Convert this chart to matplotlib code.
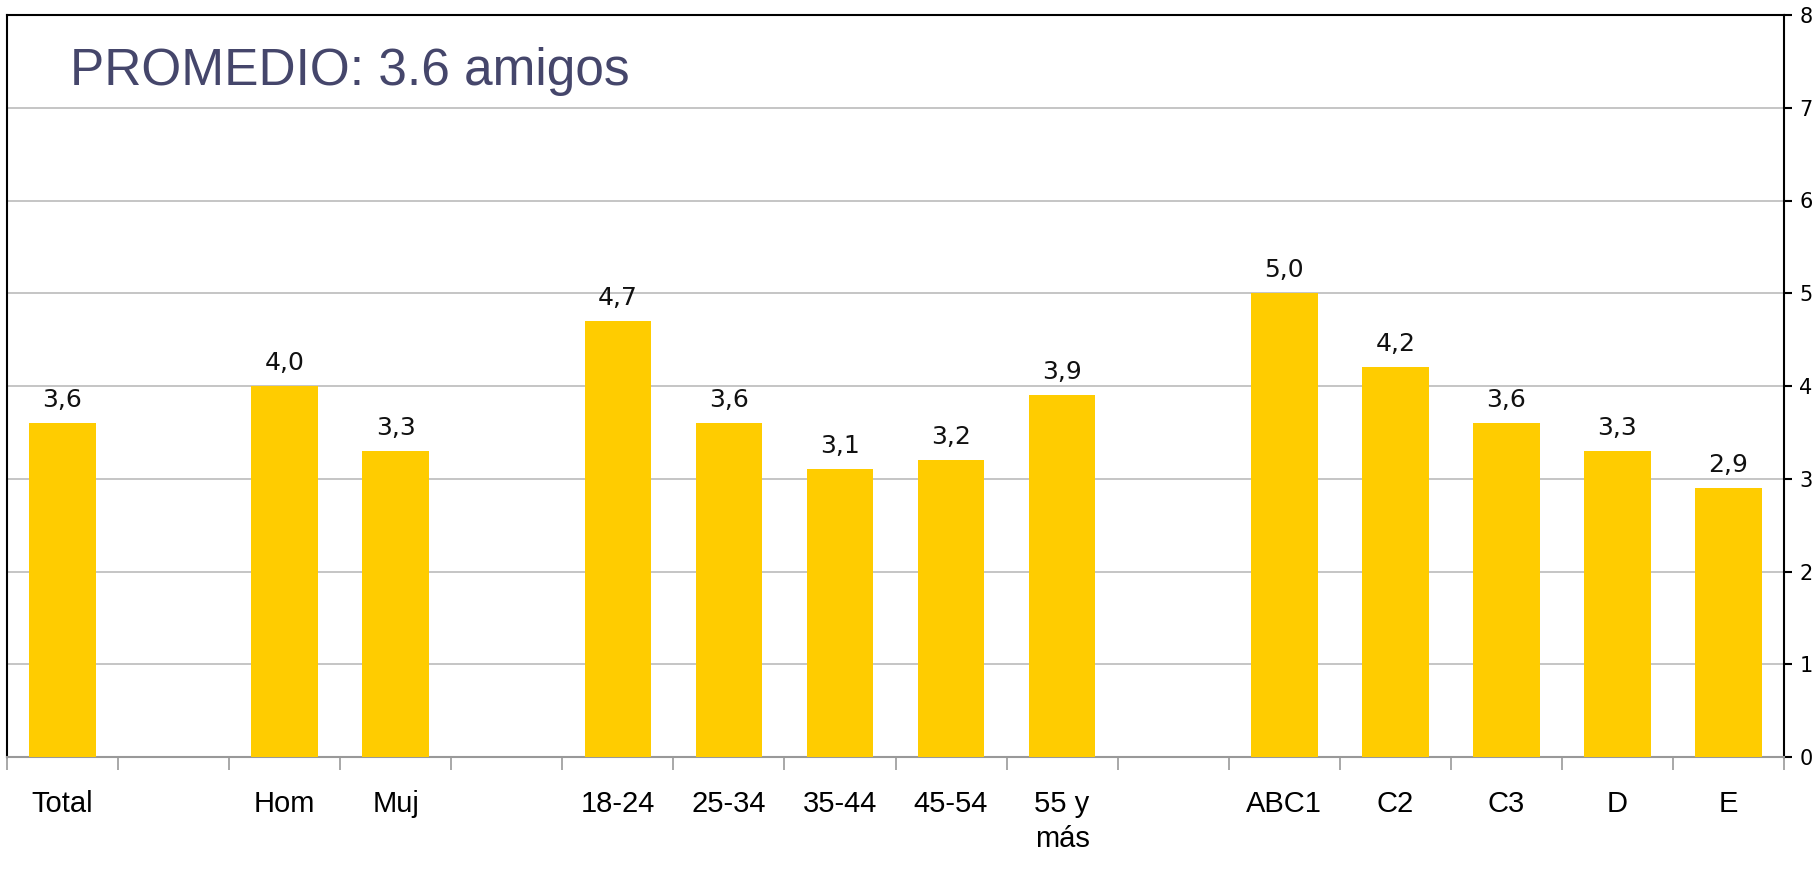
import matplotlib.pyplot as plt
import numpy as np

categories = ['Total', '', 'Hom', 'Muj', '', '18-24', '25-34', '35-44', '45-54',
              '55 y\nmás', '', 'ABC1', 'C2', 'C3', 'D', 'E']
values = [3.6, None, 4.0, 3.3, None, 4.7, 3.6, 3.1, 3.2, 3.9, None, 5.0, 4.2, 3.6, 3.3, 2.9]
y_ticks = [0, 1, 2, 3, 4, 5, 6, 7, 8]
title = 'PROMEDIO: 3.6 amigos'

W, H = 1816, 881
fig = plt.figure(figsize=(W / 100, H / 100), dpi=100)
ax = fig.add_axes([7 / W, 1 - 757 / H, (1784 - 7) / W, (757 - 15) / H])

x = np.arange(len(categories))
for xi, v in zip(x, values):
    if v is None:
        continue
    ax.bar(xi, v, width=0.6, color='#FFCC00', zorder=3)
    ax.text(xi, v + 0.12, f'{v:.1f}'.replace('.', ','), ha='center', va='bottom',
            fontsize=18, family='DejaVu Sans', color='#111111')

ax.set_xlim(-0.5, len(categories) - 0.5)
ax.set_ylim(0, 8)

# category labels centred, boundary ticks as minor ticks
ax.set_xticks(x)
ax.set_xticklabels(categories, family=['Liberation Sans', 'DejaVu Sans'],
                   fontsize=21, linespacing=1.3, va='top')
ax.tick_params(axis='x', which='major', length=0, pad=24)
ax.set_xticks(np.arange(-0.5, len(categories), 1), minor=True)
ax.tick_params(axis='x', which='minor', length=9, width=1.2, color='#999999', direction='out')

ax.yaxis.tick_right()
ax.set_yticks(y_ticks)
ax.tick_params(axis='y', length=6, width=1.5, color='black', pad=5, labelsize=15)
for lab in ax.get_yticklabels():
    lab.set_family('DejaVu Sans')

ax.grid(axis='y', color='#c0c0c0', linewidth=1.3, zorder=0)

for side in ['left', 'top', 'right']:
    ax.spines[side].set_color('black')
    ax.spines[side].set_linewidth(1.5)
ax.spines['bottom'].set_color('#999999')
ax.spines['bottom'].set_linewidth(1.5)

fig.text(70 / W, 1 - 72 / H, title, fontsize=37, color='#45466b', va='center', ha='left',
         family=['Liberation Sans', 'DejaVu Sans'])

fig.savefig('out.png', dpi=100)
